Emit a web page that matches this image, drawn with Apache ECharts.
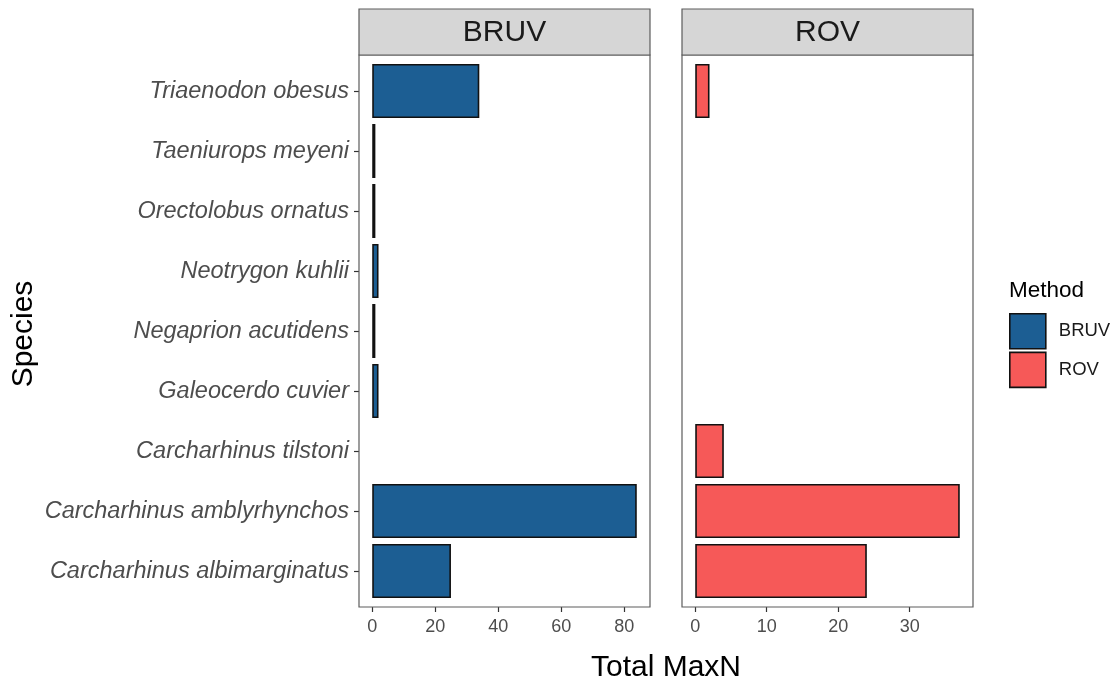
<!DOCTYPE html>
<html><head><meta charset="utf-8">
<script src="https://cdn.jsdelivr.net/npm/echarts@6/dist/echarts.min.js"></script>
<style>html,body{margin:0;padding:0;background:#fff}#c{width:1120px;height:686px}</style>
</head><body><div id="c"></div>
<script>
// ---- data ----
const species = [
  'Carcharhinus albimarginatus',
  'Carcharhinus amblyrhynchos',
  'Carcharhinus tilstoni',
  'Galeocerdo cuvier',
  'Negaprion acutidens',
  'Neotrygon kuhlii',
  'Orectolobus ornatus',
  'Taeniurops meyeni',
  'Triaenodon obesus'
];
const bruvValues = [25, 84, null, 2, 1, 2, 1, 1, 34];
const rovValues  = [24, 37, 4, null, null, null, null, null, 2];
const methods = ['BRUV', 'ROV'];
const bruvTicks = [0, 20, 40, 60, 80];
const rovTicks = [0, 10, 20, 30];

// ---- layout ----
const FONT = 'Liberation Sans, Arial, Helvetica, sans-serif';
const panelTop = 55, panelBottom = 607, panelW = 291;
const panelLefts = [359, 682];
const stripTop = 9;
const panelH = panelBottom - panelTop;
const band = panelH / (species.length + 0.2);
const insetY = band * 0.1;
const colors = ['#1c5e93', '#f65958'];
const borderGray = '#5c5c5c';

function maxOf(a){ return Math.max.apply(null, a.filter(v => v != null)); }

const grids = panelLefts.map(l => ({
  left: l, width: panelW, top: panelTop + insetY, height: panelH - 2 * insetY
}));

function xAxisFor(i, ticks, vals){
  const m = maxOf(vals);
  return {
    type: 'value', gridIndex: i, min: -0.05 * m, max: 1.05 * m,
    offset: insetY,
    axisLine: { show: false, onZero: false },
    splitLine: { show: false },
    axisTick: { show: true, length: 5, customValues: ticks, lineStyle: { color: '#333', width: 1.2 } },
    axisLabel: { customValues: ticks, fontSize: 18, color: '#4d4d4d', fontFamily: FONT, margin: 11 }
  };
}

const option = {
  backgroundColor: '#fff',
  animation: false,
  grid: grids,
  xAxis: [xAxisFor(0, bruvTicks, bruvValues), xAxisFor(1, rovTicks, rovValues)],
  yAxis: [
    {
      type: 'category', gridIndex: 0, data: species,
      axisLine: { show: false, onZero: false },
      axisTick: { show: true, alignWithLabel: true, length: 5, lineStyle: { color: '#333', width: 1.2 } },
      axisLabel: { fontSize: 23.5, fontStyle: 'italic', color: '#4d4d4d', fontFamily: FONT, margin: 10 }
    },
    { type: 'category', gridIndex: 1, data: species, show: false, axisLine: { onZero: false } }
  ],
  legend: {
    data: methods, orient: 'vertical', left: 1009, top: 313,
    itemWidth: 36, itemHeight: 35, itemGap: 2, icon: 'rect', padding: 0,
    itemStyle: { borderColor: '#111', borderWidth: 1.6 },
    textStyle: { fontSize: 18.5, color: '#1a1a1a', fontFamily: FONT, padding: [0, 0, 0, 8] }
  },
  series: [
    {
      name: methods[0], type: 'bar', xAxisIndex: 0, yAxisIndex: 0,
      data: bruvValues, barCategoryGap: '10%',
      itemStyle: { color: colors[0], borderColor: '#111', borderWidth: 1.6 }
    },
    {
      name: methods[1], type: 'bar', xAxisIndex: 1, yAxisIndex: 1,
      data: rovValues, barCategoryGap: '10%',
      itemStyle: { color: colors[1], borderColor: '#111', borderWidth: 1.6 }
    }
  ],
  graphic: []
};

panelLefts.forEach((l, i) => {
  option.graphic.push({
    type: 'rect', shape: { x: l, y: panelTop, width: panelW, height: panelH },
    style: { fill: 'none', stroke: borderGray, lineWidth: 1.2 }, z: 10, silent: true
  });
  option.graphic.push({
    type: 'rect', shape: { x: l, y: stripTop, width: panelW, height: panelTop - stripTop },
    style: { fill: '#d6d6d6', stroke: borderGray, lineWidth: 1.2 }, z: 10, silent: true
  });
  option.graphic.push({
    type: 'text', x: l + panelW / 2, y: (stripTop + panelTop) / 2 + 1, z: 11, silent: true,
    style: { text: methods[i], fontSize: 30, fill: '#1a1a1a', fontFamily: FONT, textAlign: 'center', textVerticalAlign: 'middle' }
  });
});
option.graphic.push({
  type: 'text', x: (panelLefts[0] + panelLefts[1] + panelW) / 2, y: 668, silent: true,
  style: { text: 'Total MaxN', fontSize: 30, fill: '#000', fontFamily: FONT, textAlign: 'center', textVerticalAlign: 'middle' }
});
option.graphic.push({
  type: 'text', x: 24, y: 334, rotation: Math.PI / 2, silent: true,
  style: { text: 'Species', fontSize: 30, fill: '#000', fontFamily: FONT, textAlign: 'center', textVerticalAlign: 'middle' }
});
option.graphic.push({
  type: 'text', x: 1009, y: 291, silent: true,
  style: { text: 'Method', fontSize: 22.5, fill: '#000', fontFamily: FONT, textAlign: 'left', textVerticalAlign: 'middle' }
});

const chart = echarts.init(document.getElementById('c'), null, { renderer: 'canvas' });
chart.setOption(option);
</script>
</body></html>
